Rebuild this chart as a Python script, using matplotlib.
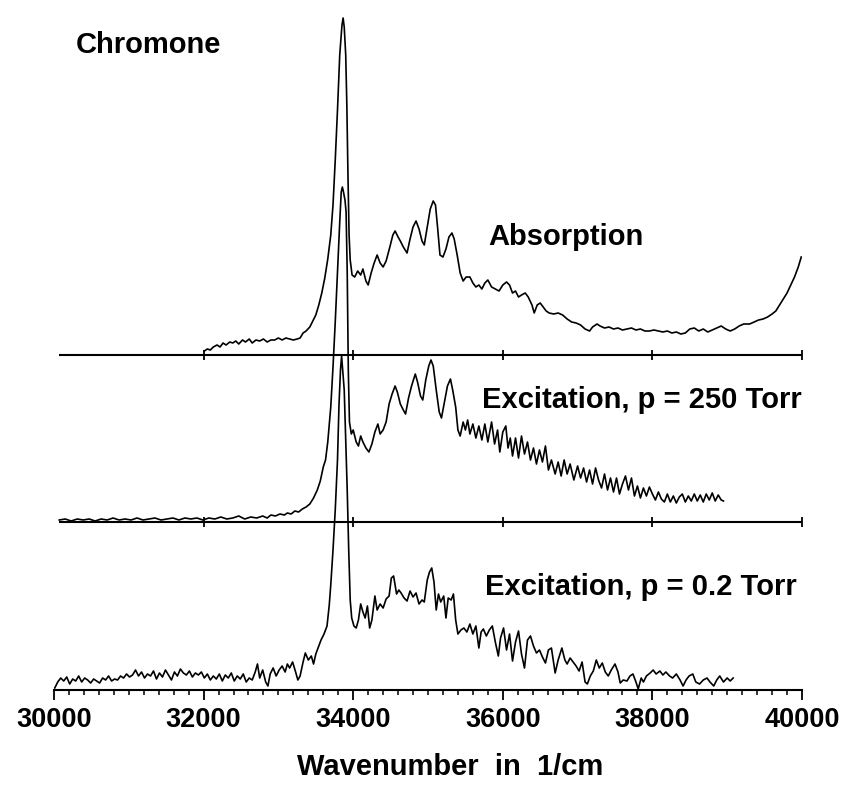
import matplotlib.pyplot as plt
from matplotlib.ticker import MultipleLocator

plt.rcParams['font.family'] = ['Liberation Sans', 'DejaVu Sans']

# === Absorption spectrum (wavenumber in 1/cm, intensity a.u.) ===
abs_wn = [32010, 32050, 32090, 32130, 32180, 32220, 32260, 32300, 32350, 32390,
          32430, 32470, 32520, 32560, 32610, 32650, 32700, 32750, 32800, 32850,
          32900, 32950, 33000, 33050, 33100, 33150, 33200, 33250, 33290, 33330,
          33370, 33420, 33460, 33500, 33540, 33580, 33620, 33660, 33700, 33730,
          33760, 33790, 33820, 33850, 33865, 33880, 33900, 33915, 33930, 33945,
          33960, 33985, 34020, 34060, 34100, 34130, 34170, 34200, 34240, 34280,
          34320, 34360, 34400, 34440, 34490, 34530, 34560, 34600, 34630, 34670,
          34720, 34760, 34800, 34840, 34880, 34920, 34950, 34990, 35030, 35070,
          35100, 35130, 35160, 35200, 35240, 35280, 35320, 35350, 35390, 35430,
          35470, 35510, 35560, 35600, 35640, 35680, 35720, 35760, 35800, 35850,
          35900, 35950, 36000, 36050, 36090, 36130, 36170, 36210, 36250, 36300,
          36340, 36390, 36420, 36460, 36500, 36540, 36580, 36620, 36680, 36740,
          36800, 36860, 36920, 36980, 37040, 37100, 37160, 37200, 37260, 37300,
          37360, 37420, 37480, 37540, 37600, 37660, 37720, 37780, 37840, 37900,
          37960, 38020, 38080, 38140, 38200, 38260, 38320, 38380, 38440, 38500,
          38560, 38620, 38680, 38740, 38800, 38860, 38920, 38980, 39040, 39100,
          39160, 39220, 39300, 39360, 39420, 39480, 39540, 39600, 39650, 39700,
          39750, 39800, 39850, 39900, 39950, 39990]
abs_val = [4, 6, 5, 8, 10, 8, 12, 10, 13, 12,
           14, 11, 15, 13, 16, 12, 15, 14, 16, 13,
           15, 15, 17, 15, 17, 16, 15, 16, 17, 22,
           24, 28, 34, 40, 50, 62, 77, 96, 120, 150,
           195, 245, 300, 330, 337, 328, 300, 250, 180, 120,
           95, 80, 78, 84, 80, 86, 74, 70, 82, 92,
           100, 92, 88, 94, 108, 120, 124, 118, 114, 108,
           102, 116, 128, 134, 126, 114, 110, 128, 146, 154,
           150, 126, 100, 98, 106, 118, 122, 116, 100, 82,
           74, 78, 78, 72, 68, 70, 66, 72, 75, 68,
           66, 64, 70, 73, 70, 62, 64, 58, 60, 62,
           58, 50, 42, 50, 52, 48, 44, 42, 41, 42,
           40, 36, 33, 32, 30, 26, 24, 28, 31, 29,
           27, 28, 26, 27, 25, 26, 27, 25, 26, 24,
           24, 25, 24, 23, 24, 22, 23, 21, 22, 26,
           27, 24, 26, 23, 25, 27, 29, 26, 24, 26,
           29, 31, 31, 33, 35, 36, 38, 41, 44, 50,
           56, 62, 70, 78, 88, 98]

# === Excitation spectrum, p = 250 Torr ===
exc250_wn = [30070, 30150, 30230, 30310, 30390, 30470, 30550, 30630, 30710, 30790,
             30870, 30950, 31030, 31110, 31190, 31270, 31350, 31430, 31510, 31590,
             31670, 31750, 31830, 31910, 31990, 32070, 32150, 32230, 32310, 32390,
             32470, 32550, 32630, 32710, 32790, 32850, 32900, 32960, 33020, 33080,
             33120, 33170, 33220, 33270, 33320, 33370, 33420, 33470, 33520, 33560,
             33600, 33630, 33660, 33700, 33730, 33760, 33790, 33820, 33840, 33855,
             33870, 33890, 33905, 33920, 33935, 33950, 33975, 34000, 34040, 34070,
             34100, 34130, 34170, 34210, 34250, 34290, 34330, 34360, 34400, 34440,
             34480, 34520, 34560, 34590, 34630, 34670, 34700, 34740, 34780, 34830,
             34860, 34900, 34930, 34970, 35010, 35040, 35070, 35110, 35150, 35180,
             35220, 35260, 35300, 35330, 35370, 35400, 35430, 35470, 35500, 35530,
             35560, 35600, 35640, 35680, 35720, 35760, 35800, 35850, 35890, 35930,
             35960, 36000, 36040, 36070, 36100, 36130, 36170, 36210, 36250, 36290,
             36330, 36370, 36410, 36450, 36490, 36530, 36570, 36610, 36650, 36700,
             36740, 36780, 36820, 36860, 36900, 36950, 37000, 37040, 37080, 37120,
             37160, 37200, 37240, 37280, 37320, 37360, 37400, 37440, 37480, 37520,
             37560, 37600, 37640, 37680, 37720, 37760, 37800, 37840, 37880, 37920,
             37960, 38000, 38040, 38080, 38120, 38160, 38200, 38240, 38280, 38320,
             38360, 38400, 38440, 38480, 38520, 38560, 38600, 38640, 38680, 38720,
             38760, 38800, 38840, 38880, 38920, 38950]
exc250_val = [2, 3, 1, 3, 2, 3, 1, 3, 2, 4,
              2, 3, 2, 4, 2, 3, 4, 2, 3, 4,
              2, 4, 3, 4, 2, 4, 3, 5, 3, 4,
              6, 3, 5, 4, 6, 4, 7, 6, 8, 7,
              9, 8, 11, 10, 13, 15, 18, 24, 32, 41,
              55, 62, 80, 115, 155, 200, 250, 300, 330, 335,
              330, 322, 310, 250, 150, 100, 88, 92, 80, 76,
              86, 80, 74, 70, 78, 90, 98, 88, 92, 100,
              118, 128, 136, 130, 118, 112, 108, 124, 136, 148,
              140, 126, 122, 142, 156, 162, 156, 132, 110, 104,
              120, 136, 143, 132, 115, 92, 86, 100, 92, 102,
              88, 98, 84, 96, 82, 98, 80, 100, 78, 92,
              70, 90, 96, 74, 84, 66, 84, 64, 86, 68,
              80, 62, 74, 58, 72, 60, 76, 52, 62, 48,
              60, 46, 62, 48, 58, 42, 56, 44, 54, 40,
              52, 38, 54, 42, 34, 48, 32, 44, 30, 44,
              28, 38, 46, 32, 44, 26, 36, 24, 34, 26,
              35, 28, 22, 30, 23, 20, 28, 20, 26, 19,
              25, 28, 20, 26, 21, 28, 21, 27, 20, 28,
              22, 29, 21, 27, 22, 21]

# === Excitation spectrum, p = 0.2 Torr ===
exc02_wn = [30010, 30050, 30090, 30130, 30170, 30210, 30250, 30290, 30330, 30370,
            30410, 30450, 30490, 30530, 30570, 30610, 30650, 30690, 30730, 30770,
            30810, 30850, 30890, 30930, 30970, 31010, 31050, 31090, 31130, 31170,
            31210, 31250, 31290, 31330, 31370, 31410, 31450, 31490, 31530, 31570,
            31610, 31650, 31690, 31730, 31770, 31810, 31850, 31890, 31930, 31970,
            32010, 32050, 32090, 32130, 32170, 32210, 32250, 32290, 32330, 32370,
            32410, 32450, 32490, 32530, 32570, 32610, 32650, 32690, 32720, 32750,
            32790, 32830, 32860, 32890, 32930, 32970, 33010, 33050, 33090, 33120,
            33150, 33190, 33230, 33260, 33290, 33330, 33360, 33400, 33440, 33470,
            33500, 33540, 33570, 33610, 33650, 33680, 33700, 33730, 33760, 33790,
            33810, 33830, 33845, 33860, 33880, 33900, 33920, 33940, 33960, 33980,
            34010, 34040, 34070, 34100, 34130, 34160, 34190, 34220, 34250, 34290,
            34320, 34360, 34400, 34440, 34480, 34510, 34540, 34580, 34610, 34640,
            34680, 34720, 34760, 34800, 34840, 34880, 34920, 34950, 34990, 35020,
            35050, 35080, 35110, 35140, 35170, 35210, 35240, 35270, 35310, 35340,
            35370, 35400, 35440, 35480, 35520, 35560, 35600, 35640, 35680, 35710,
            35740, 35780, 35820, 35860, 35900, 35940, 35970, 36010, 36050, 36090,
            36130, 36170, 36210, 36250, 36290, 36330, 36370, 36410, 36450, 36490,
            36530, 36570, 36610, 36650, 36700, 36740, 36790, 36830, 36860, 36900,
            36940, 36980, 37020, 37060, 37100, 37130, 37170, 37210, 37250, 37290,
            37330, 37370, 37410, 37450, 37500, 37540, 37570, 37610, 37660, 37700,
            37740, 37780, 37810, 37850, 37880, 37920, 37970, 38010, 38050, 38100,
            38140, 38180, 38230, 38270, 38320, 38370, 38410, 38450, 38490, 38540,
            38580, 38630, 38680, 38730, 38770, 38820, 38860, 38900, 38950, 39000,
            39040, 39080]
exc02_val = [2, 8, 12, 9, 13, 6, 11, 9, 14, 8,
             12, 10, 7, 11, 9, 7, 12, 10, 14, 9,
             11, 10, 14, 12, 16, 13, 15, 20, 14, 18,
             12, 16, 14, 19, 11, 17, 13, 20, 15, 10,
             18, 14, 21, 17, 15, 19, 13, 17, 15, 18,
             12, 16, 10, 14, 11, 16, 9, 15, 12, 17,
             9, 14, 11, 16, 8, 12, 10, 18, 26, 12,
             20, 8, 4, 16, 22, 14, 20, 24, 18, 26,
             22, 28, 18, 10, 14, 28, 37, 30, 34, 26,
             36, 44, 50, 56, 64, 85, 105, 140, 180, 230,
             285, 320, 334, 320, 300, 250, 200, 140, 90, 72,
             64, 62, 70, 86, 78, 72, 84, 62, 70, 94,
             80, 86, 82, 91, 94, 112, 114, 96, 100, 97,
             92, 89, 99, 93, 97, 86, 90, 88, 110, 118,
             122, 108, 80, 96, 88, 94, 72, 92, 90, 96,
             70, 56, 60, 62, 58, 66, 56, 64, 42, 58,
             61, 54, 60, 64, 48, 34, 52, 62, 40, 56,
             29, 48, 59, 36, 22, 50, 54, 44, 37, 40,
             33, 27, 40, 42, 17, 30, 42, 30, 26, 32,
             28, 24, 19, 28, 8, 6, 14, 19, 30, 22,
             27, 18, 14, 20, 26, 18, 7, 10, 9, 14,
             16, 8, 1, 12, 8, 14, 17, 20, 16, 19,
             15, 18, 14, 12, 16, 10, 4, 10, 14, 16,
             8, 6, 10, 12, 8, 4, 10, 14, 8, 12,
             9, 12]

# vertical offsets of the stacked spectra
spectra = [
    (abs_wn, abs_val, 335),
    (exc250_wn, exc250_val, 168),
    (exc02_wn, exc02_val, 0),
]
major_ticks = [30000, 32000, 34000, 36000, 38000, 40000]

W, H = 842, 787
fig = plt.figure(figsize=(W / 100, H / 100), dpi=100)
ax = fig.add_axes([54 / W, (H - 690) / H, (802 - 54) / W, 690 / H])

for wn, val, off in spectra:
    ax.plot(wn, [v + off for v in val], color='black', lw=1.2)

# baselines of the upper two spectra with their own tick marks
for off in (335, 168):
    ax.hlines(off, 30070, 40000, color='black', lw=1.5)
    ax.plot(major_ticks[1:], [off] * len(major_ticks[1:]), ls='none',
            marker='|', ms=7, mew=1.3, color='black')

ax.set_xlim(30000, 40000)
ax.set_ylim(0, 690)
for s in ['top', 'right', 'left']:
    ax.spines[s].set_visible(False)
ax.spines['bottom'].set_linewidth(1.5)
ax.set_yticks([])
ax.xaxis.set_major_locator(MultipleLocator(2000))
ax.xaxis.set_minor_locator(MultipleLocator(200))
ax.tick_params(axis='x', which='major', direction='out', length=7, width=1.3,
               pad=5, labelsize=19.5)
ax.tick_params(axis='x', which='minor', direction='out', length=3.5, width=1.1)
for lab in ax.get_xticklabels():
    lab.set_fontweight('bold')

def ftext(x, y, s, ha='left'):
    fig.text(x / W, 1 - y / H, s, ha=ha, va='center', fontsize=21,
             fontweight='bold')

ftext(76, 45, "Chromone")
ftext(488, 237, "Absorption")
ftext(482, 400, "Excitation, p = 250 Torr")
ftext(485, 587, "Excitation, p = 0.2 Torr")
ftext(450, 767, "Wavenumber  in  1/cm", ha='center')

fig.savefig('out.png', dpi=100)
